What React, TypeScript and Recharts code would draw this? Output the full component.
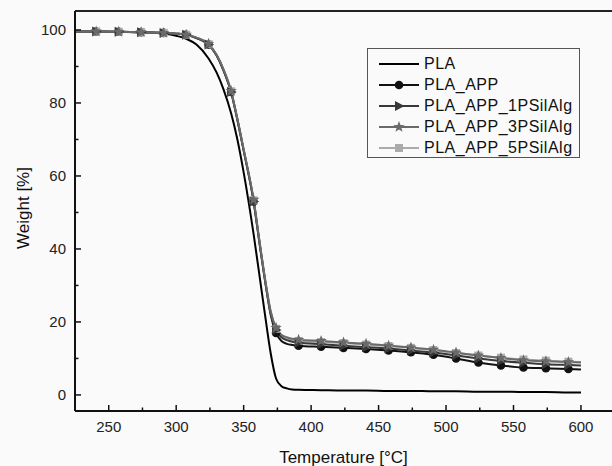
import React from 'react'
import { LineChart, Line, XAxis, YAxis, Legend, ReferenceLine } from 'recharts'

// TGA curves: weight loss vs temperature for PLA and the APP blends.

const temps = [
  225, 240.7, 257.4, 274, 290.7, 300, 307.4, 315, 324, 330, 335, 340.7, 345, 350,
  357.4, 362, 366, 370, 374, 378, 382, 386, 390.7, 407.4, 424, 440.7, 457.4, 474,
  490.7, 507.4, 524, 540.7, 557.4, 574, 590.7, 600,
]

const pla = [
  99.6, 99.6, 99.5, 99.4, 99.0, 98.4, 97.6, 96.0, 92.2, 88.3, 83.8, 77.2, 70.6, 61.0,
  44.0, 32.0, 21.5, 11.5, 4.5, 2.4, 1.8, 1.5, 1.4, 1.3, 1.2, 1.2, 1.1, 1.1,
  1.0, 1.0, 0.9, 0.9, 0.8, 0.8, 0.7, 0.7,
]

const plaApp = [
  99.6, 99.6, 99.5, 99.4, 99.2, 99.0, 98.7, 97.8, 96.0, 93.0, 89.0, 83.0, 76.0, 67.0,
  53.0, 41.0, 31.0, 22.0, 17.0, 14.8, 14.0, 13.7, 13.5, 13.2, 12.9, 12.6, 12.2, 11.7,
  11.0, 10.0, 8.9, 8.1, 7.5, 7.3, 7.1, 7.0,
]

const pla1P = [
  99.6, 99.6, 99.5, 99.4, 99.2, 99.0, 98.7, 97.8, 96.0, 93.0, 89.0, 83.0, 76.0, 67.0,
  53.0, 41.0, 31.0, 22.5, 17.8, 15.8, 15.0, 14.6, 14.3, 13.9, 13.5, 13.1, 12.7, 12.2,
  11.6, 10.8, 10.0, 9.3, 8.8, 8.4, 8.2, 8.1,
]

const pla3P = [
  99.6, 99.6, 99.5, 99.4, 99.2, 99.0, 98.7, 97.9, 96.2, 93.2, 89.3, 83.3, 76.3, 67.3,
  53.5, 41.5, 31.5, 23.0, 18.4, 16.5, 15.8, 15.4, 15.1, 14.8, 14.4, 14.0, 13.5, 13.0,
  12.4, 11.6, 10.8, 10.1, 9.5, 9.2, 9.0, 8.9,
]

const pla5P = [
  99.6, 99.6, 99.5, 99.4, 99.2, 99.0, 98.7, 97.9, 96.1, 93.1, 89.2, 83.2, 76.2, 67.2,
  53.3, 41.3, 31.3, 22.8, 18.1, 16.2, 15.5, 15.1, 14.8, 14.5, 14.2, 13.8, 13.4, 12.9,
  12.3, 11.5, 10.8, 10.2, 9.7, 9.4, 9.1, 9.0,
]

// temperatures where the symbols sit
const markerTemps = [
  240.7, 257.4, 274, 290.7, 307.4, 324, 340.7, 357.4, 374, 390.7, 407.4, 424, 440.7,
  457.4, 474, 490.7, 507.4, 524, 540.7, 557.4, 574, 590.7,
]

const xTicks = [250, 275, 300, 325, 350, 375, 400, 425, 450, 475, 500, 525, 550, 575, 600]
const yTicks = [0, 10, 20, 30, 40, 50, 60, 70, 80, 90, 100]

const data = temps.map((t, i) => ({
  t,
  pla: pla[i],
  app: plaApp[i],
  p1: pla1P[i],
  p3: pla3P[i],
  p5: pla5P[i],
}))

type Shape = 'none' | 'circle' | 'triangle' | 'star' | 'square'

const series: { key: string; name: string; color: string; shape: Shape }[] = [
  { key: 'pla', name: 'PLA', color: '#000000', shape: 'none' },
  { key: 'app', name: 'PLA_APP', color: '#111111', shape: 'circle' },
  { key: 'p1', name: 'PLA_APP_1PSilAlg', color: '#383838', shape: 'triangle' },
  { key: 'p3', name: 'PLA_APP_3PSilAlg', color: '#6a6a6a', shape: 'star' },
  { key: 'p5', name: 'PLA_APP_5PSilAlg', color: '#ababab', shape: 'square' },
]

// stacking in the original: the star curve ends up on top where they overlap
const drawOrder = ['pla', 'app', 'p5', 'p1', 'p3'].map((k) => series.find((s) => s.key === k)!)

const FONT = '"Liberation Sans", Arial, sans-serif'
const BG = '#fafafa'

function Marker({ shape, x, y, color }: { shape: Shape; x: number; y: number; color: string }) {
  if (shape === 'circle') return <circle cx={x} cy={y} r={4.3} fill={color} />
  if (shape === 'triangle')
    return <polygon points={`${x - 4},${y - 5} ${x + 5.5},${y} ${x - 4},${y + 5}`} fill={color} />
  if (shape === 'square') return <rect x={x - 4} y={y - 4} width={8} height={8} fill={color} />
  if (shape === 'star') {
    const pts: string[] = []
    for (let k = 0; k < 10; k++) {
      const r = k % 2 === 0 ? 6 : 2.5
      const a = -Math.PI / 2 + (k * Math.PI) / 5
      pts.push(`${x + r * Math.cos(a)},${y + r * Math.sin(a)}`)
    }
    return <polygon points={pts.join(' ')} fill={color} />
  }
  return null
}

function markerDot(shape: Shape, color: string) {
  return (props: any) => {
    const { cx, cy, payload, index } = props
    if (cx == null || cy == null || !markerTemps.includes(payload.t)) return <g key={index} />
    return (
      <g key={index}>
        <Marker shape={shape} x={cx} y={cy} color={color} />
      </g>
    )
  }
}

function XTick({ x, y, payload }: any) {
  const major = payload.value % 50 === 0
  return (
    <g>
      <line x1={x} x2={x} y1={y} y2={y - (major ? 6 : 3.5)} stroke="#111" strokeWidth={1.5} />
      {major && (
        <text x={x} y={y + 21} textAnchor="middle" fontSize={15} fontFamily={FONT} fill="#222">
          {payload.value}
        </text>
      )}
    </g>
  )
}

function YTick({ x, y, payload }: any) {
  const major = payload.value % 20 === 0
  return (
    <g>
      <line x1={x} x2={x + (major ? 6 : 3.5)} y1={y} y2={y} stroke="#111" strokeWidth={1.5} />
      {major && (
        <text x={x - 9} y={y + 5} textAnchor="end" fontSize={15} fontFamily={FONT} fill="#222">
          {payload.value}
        </text>
      )}
    </g>
  )
}

function LegendBox() {
  return (
    <div
      style={{
        width: 213,
        height: 110,
        boxSizing: 'border-box',
        border: '1px solid #555',
        background: BG,
        padding: '5px 0 0 11px',
        fontFamily: FONT,
        fontSize: 16,
        color: '#111',
      }}
    >
      {series.map((s) => (
        <div key={s.key} style={{ display: 'flex', alignItems: 'center', height: 20.8 }}>
          <svg width={40} height={14} style={{ display: 'block' }}>
            <line x1={0} x2={40} y1={7} y2={7} stroke={s.color} strokeWidth={2} />
            <Marker shape={s.shape} x={20} y={7} color={s.color} />
          </svg>
          <span style={{ marginLeft: 5, letterSpacing: 0.5, whiteSpace: 'nowrap' }}>{s.name}</span>
        </div>
      ))}
    </div>
  )
}

export default function App() {
  return (
    <div
      style={{
        position: 'fixed',
        left: 0,
        top: 0,
        width: 612,
        height: 466,
        overflow: 'hidden',
        background: BG,
      }}
    >
      <LineChart width={612} height={466} data={data} margin={{ top: 11, right: 0, bottom: 0, left: 0 }}>
        <XAxis
          dataKey="t"
          type="number"
          domain={[225, 623]}
          allowDataOverflow
          ticks={xTicks}
          interval={0}
          height={55}
          tickSize={0}
          tickMargin={0}
          tick={<XTick />}
          axisLine={{ stroke: '#111', strokeWidth: 2 }}
          label={{
            content: ({ viewBox }: any) => (
              <text
                x={viewBox.x + viewBox.width / 2}
                y={viewBox.y + 52}
                textAnchor="middle"
                fontSize={17}
                fontFamily={FONT}
                fill="#111"
              >
                Temperature [°C]
              </text>
            ),
          }}
        />
        <YAxis
          type="number"
          domain={[-4.4, 105.2]}
          allowDataOverflow
          ticks={yTicks}
          interval={0}
          width={75}
          tickSize={0}
          tickMargin={0}
          tick={<YTick />}
          axisLine={{ stroke: '#111', strokeWidth: 2 }}
          label={{
            content: ({ viewBox }: any) => {
              const cy = viewBox.y + viewBox.height / 2 - 3
              return (
                <text
                  x={23}
                  y={cy}
                  transform={`rotate(-90 23 ${cy})`}
                  textAnchor="middle"
                  dominantBaseline="central"
                  fontSize={17}
                  fontFamily={FONT}
                  fill="#111"
                >
                  Weight [%]
                </text>
              )
            },
          }}
        />
        <ReferenceLine y={105.2} stroke="#222" strokeWidth={2} />
        <Legend
          layout="horizontal"
          align="center"
          verticalAlign="middle"
          wrapperStyle={{ left: 367, top: 48, width: 213 }}
          content={() => <LegendBox />}
        />
        {drawOrder.map((s) => (
          <Line
            key={s.key}
            dataKey={s.key}
            name={s.name}
            type="monotone"
            stroke={s.color}
            strokeWidth={2}
            dot={s.shape === 'none' ? false : markerDot(s.shape, s.color)}
            activeDot={false}
            isAnimationActive={false}
          />
        ))}
      </LineChart>
    </div>
  )
}
